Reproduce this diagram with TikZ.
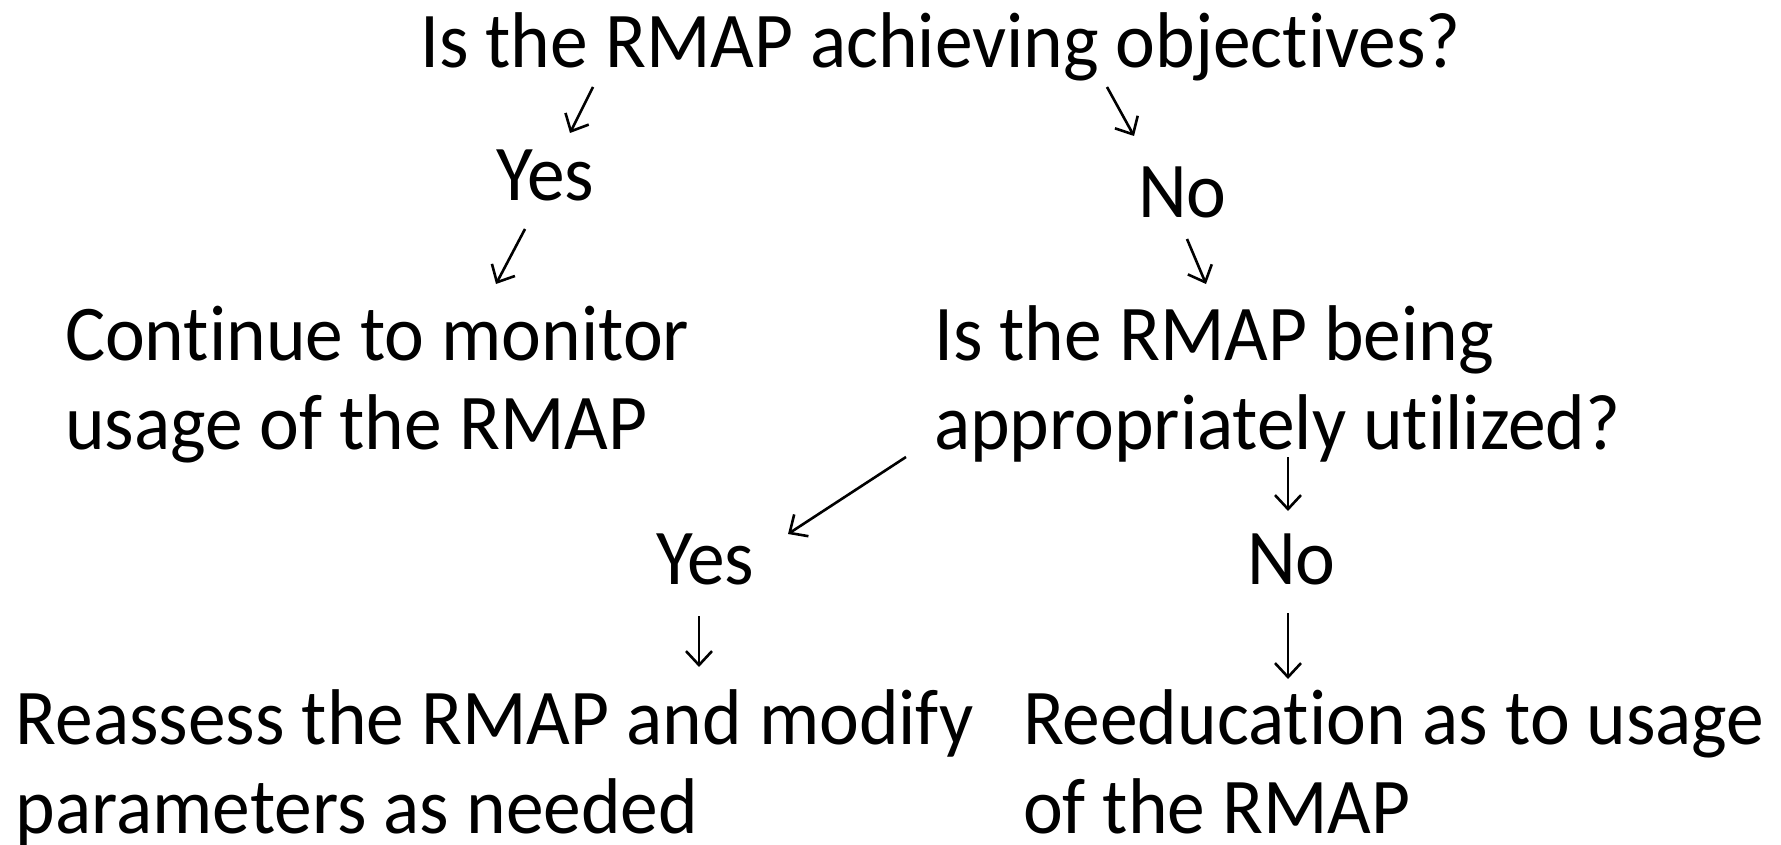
\documentclass[tikz,border=0pt]{standalone}
\usepackage{fontspec}
\setmainfont{Carlito}[Ligatures={NoCommon},FakeStretch=0.955]
\usetikzlibrary{arrows.meta}
\begin{document}
\begin{tikzpicture}[x=1pt,y=-1pt,
  lbl/.style={anchor=base west,inner sep=0pt,outer sep=0pt,align=left,font=\fontsize{79}{89}\selectfont},
  arr/.style={line width=2.6pt,-{Straight Barb[length=14pt,width=26pt,line width=2.6pt]}}]
\useasboundingbox (0,0) rectangle (1781,845);
\node[lbl] (q1) at (420,68) {Is the RMAP achieving objectives?};
\node[lbl] (y1) at (496,201) {Yes};
\node[lbl] (n1) at (1138,218) {No};
\node[lbl] (cont) at (65,449) {Continue to monitor\\usage of the RMAP};
\node[lbl] (q2) at (934,449) {Is the RMAP being\\appropriately utilized?};
\node[lbl] (y2) at (656,584) {Yes};
\node[lbl] (n2) at (1247,584) {No};
\node[lbl] (reas) at (16,833) {Reassess the RMAP and modify\\parameters as needed};
\node[lbl] (reed) at (1023,833) {Reeducation as to usage\\of the RMAP};
\coordinate (a1s) at (593,87); \coordinate (a1e) at (570,133);
\coordinate (a2s) at (1107,87); \coordinate (a2e) at (1134,136);
\coordinate (a3s) at (525,229); \coordinate (a3e) at (496,284);
\coordinate (a4s) at (1187,239); \coordinate (a4e) at (1206,284);
\coordinate (a5s) at (906,457); \coordinate (a5e) at (788,534);
\coordinate (a6s) at (1288,457); \coordinate (a6e) at (1288,511);
\coordinate (a7s) at (699,616); \coordinate (a7e) at (699,667);
\coordinate (a8s) at (1288,613); \coordinate (a8e) at (1288,679);
\draw[arr] (a1s) -- (a1e);
\draw[arr] (a2s) -- (a2e);
\draw[arr] (a3s) -- (a3e);
\draw[arr] (a4s) -- (a4e);
\draw[arr] (a5s) -- (a5e);
\draw[arr] (a6s) -- (a6e);
\draw[arr] (a7s) -- (a7e);
\draw[arr] (a8s) -- (a8e);
\end{tikzpicture}
\end{document}
